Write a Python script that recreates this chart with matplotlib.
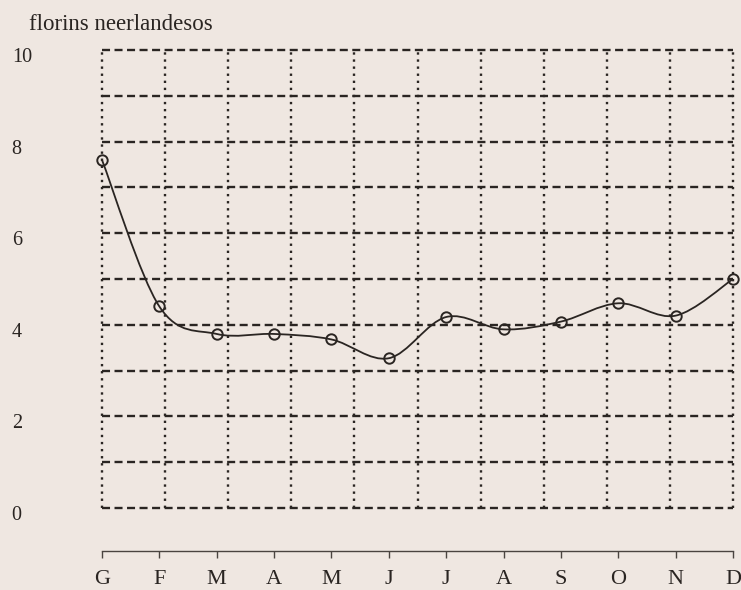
import numpy as np
import matplotlib
matplotlib.use("Agg")
import matplotlib.pyplot as plt
from matplotlib.path import Path
from matplotlib.patches import PathPatch
from matplotlib.transforms import ScaledTranslation

months = ["G", "F", "M", "A", "M", "J", "J", "A", "S", "O", "N", "D"]
values = [7.6, 4.4, 3.8, 3.8, 3.68, 3.27, 4.17, 3.9, 4.07, 4.47, 4.2, 5.0]
y_ticks = [0, 2, 4, 6, 8, 10]

BG = "#efe7e1"
INK = "#2a2522"

plt.rcParams["font.family"] = ["Liberation Serif", "DejaVu Serif"]

fig = plt.figure(figsize=(7.41, 5.90), dpi=100, facecolor=BG)
ax = fig.add_axes([102 / 741, 82 / 590, 631 / 741, 458 / 590])
ax.set_facecolor(BG)

n = len(months)
x = np.arange(n)
ax.set_xlim(0, n - 1)
ax.set_ylim(0, 10)

# dashed grid: 10 columns across the frame, one row per unit
for gx in np.linspace(0, n - 1, 11):
    ax.axvline(gx, color=INK, lw=1.7, ls=(0, (1.0, 2.0)), zorder=1, clip_on=False)
for gy in range(0, 11):
    ax.axhline(gy, color=INK, lw=1.7, ls=(0, (3.4, 1.9)), zorder=1, clip_on=False)

# smooth curve through the monthly points (Catmull-Rom as Bezier)
pts = np.column_stack([x, values]).astype(float)
ext = np.vstack([pts[0], pts, pts[-1]])
verts = [tuple(pts[0])]
codes = [Path.MOVETO]
for i in range(1, len(ext) - 2):
    p0, p1, p2, p3 = ext[i - 1], ext[i], ext[i + 1], ext[i + 2]
    c1 = p1 + (p2 - p0) / 6
    c2 = p2 - (p3 - p1) / 6
    verts += [tuple(c1), tuple(c2), tuple(p2)]
    codes += [Path.CURVE4] * 3
ax.add_patch(PathPatch(Path(verts, codes), fill=False, ec=INK, lw=1.3, zorder=3,
                       clip_on=False))
ax.plot(x, values, ls="none", marker="o", ms=7.5, mfc="none", mec=INK, mew=1.4,
        zorder=4, clip_on=False)

for s in ["top", "right", "left"]:
    ax.spines[s].set_visible(False)
ax.spines["bottom"].set_position(("outward", 31))
ax.spines["bottom"].set_color("#4a4440")
ax.spines["bottom"].set_linewidth(1.0)

ax.set_xticks(x)
ax.set_xticklabels(months)
ax.tick_params(axis="x", direction="out", length=5, width=1.0, color="#4a4440",
               pad=9, labelsize=16, labelcolor=INK)

ax.set_yticks(y_ticks)
ax.set_yticklabels([str(v) for v in y_ticks])
ax.tick_params(axis="y", length=0, pad=65, labelsize=14.5, labelcolor=INK)
for lbl in ax.get_yticklabels():
    lbl.set_horizontalalignment("left")
    lbl.set_transform(lbl.get_transform() + ScaledTranslation(0, -5 / 100, fig.dpi_scale_trans))

fig.text(29 / 741, 1 - 30 / 590, "florins neerlandesos", fontsize=16.5, color=INK,
         ha="left", va="baseline")

fig.savefig("out.png", dpi=100, facecolor=BG)
